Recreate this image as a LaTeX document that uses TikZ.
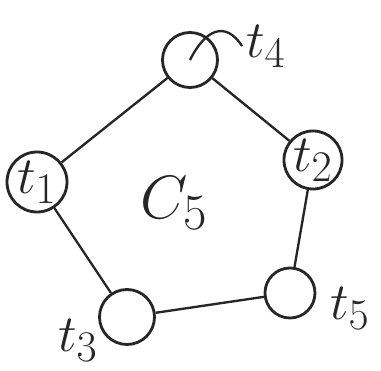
\documentclass[tikz,border=0pt]{standalone}
\usetikzlibrary{positioning}
\tikzset{
  vert/.style={draw, circle, minimum size=1.65cm, inner sep=0pt, line width=2.4pt, font=\Huge},
  lbl/.style={font=\Huge},
  edge/.style={draw, line width=2pt}
}
\newcommand{\biglab}[1]{\scalebox{1.8}{#1}}
\begin{document}
\begin{tikzpicture}[x=0.03cm, y=-0.03cm, color={black!85}]
\useasboundingbox (0,0) rectangle (381,371);
\node[vert, minimum size=1.8cm] (t1) at (37,182) {\biglab{$t_1$}};
\node[vert] (t4) at (190,60) {};
\node[vert] (t2) at (313,160) {\biglab{$t_2$}};
\node[vert, minimum size=1.5cm] (t5) at (290,293) {};
\node[vert] (t3) at (127,317) {};
\node[lbl] (l4) at (266,46) {\biglab{$t_4$}};
\node[lbl] (l5) at (350,308) {\biglab{$t_5$}};
\node[lbl] (l3) at (78,340) {\biglab{$t_3$}};
\node[font=\Huge] (c5) at (174,203) {\scalebox{2.1}{$C_5$}};
\draw[edge] (t1) -- (t4);
\draw[edge] (t4) -- (t2);
\draw[edge] (t2) -- (t5);
\draw[edge] (t5) -- (t3);
\draw[edge] (t3) -- (t1);
\draw[edge] (t4.center) .. controls (205,30) and (225,20) .. (l4.west);
\end{tikzpicture}
\end{document}
